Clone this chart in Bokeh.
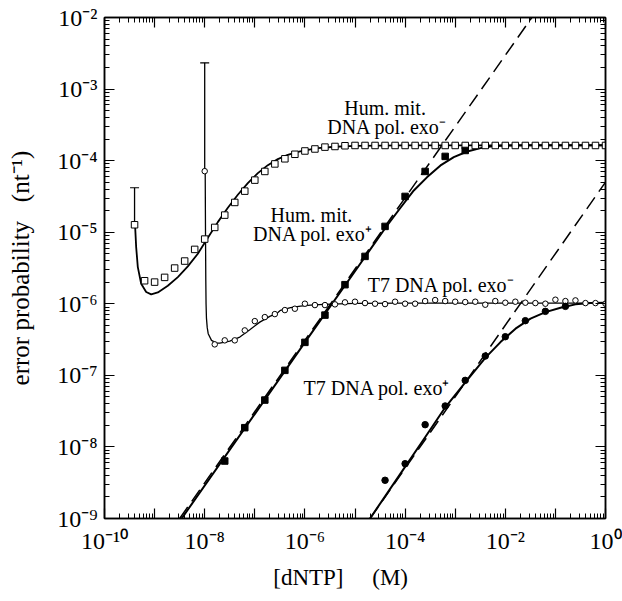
from bokeh.plotting import figure
from bokeh.models import FixedTicker, CustomJSTickFormatter, LogAxis, Label
from bokeh.embed import file_html
from bokeh.resources import INLINE

# ---------------- data (log10 values) ----------------
# Hum. mit. DNA pol. exo- (open squares)
hum_minus_lx = [-9.4, -9.2, -9.0, -8.8, -8.6, -8.4, -8.2, -8.0, -7.8, -7.6, -7.4, -7.2,
                -7.0, -6.8, -6.6, -6.4, -6.2, -6.0, -5.8, -5.6, -5.4, -5.2, -5.0, -4.8,
                -4.6, -4.4, -4.2, -4.0, -3.8, -3.6, -3.4, -3.2, -3.0, -2.8, -2.6, -2.4,
                -2.2, -2.0, -1.8, -1.6, -1.4, -1.2, -1.0, -0.8, -0.6, -0.4, -0.2, 0.0]
hum_minus_ly = [-4.896, -5.678, -5.697, -5.631, -5.501, -5.403, -5.240, -5.096, -4.933, -4.761,
                -4.584, -4.426, -4.272, -4.151, -4.046, -3.974, -3.911, -3.865, -3.837, -3.811,
                -3.802, -3.792, -3.788, -3.788, -3.788, -3.788, -3.788, -3.788, -3.788, -3.788,
                -3.788, -3.788, -3.788, -3.788, -3.788, -3.788, -3.788, -3.788, -3.788, -3.788,
                -3.788, -3.788, -3.788, -3.788, -3.788, -3.788, -3.788, -3.788]
hum_minus_err_lx = [-9.4]
hum_minus_err_top = [-4.379]
hum_minus_fit_lx = [-9.392, -9.388, -9.368, -9.335, -9.268, -9.168, -9.068, -8.935, -8.736, -8.536,
                    -8.337, -8.137, -7.937, -7.738, -7.538, -7.339, -7.139, -6.939, -6.740, -6.540,
                    -6.341, -6.141, -5.941, -5.742, -5.4, -5.0, -4.5, -4.0, -3.0, -2.0, -1.0, 0.0]
hum_minus_fit_ly = [-4.85, -4.929, -5.208, -5.487, -5.720, -5.836, -5.869, -5.841, -5.748, -5.627,
                    -5.478, -5.301, -5.077, -4.859, -4.658, -4.477, -4.314, -4.175, -4.063, -3.979,
                    -3.918, -3.876, -3.849, -3.826, -3.806, -3.795, -3.790, -3.788, -3.788, -3.788,
                    -3.788, -3.788]

# Hum. mit. DNA pol. exo+ (filled squares)
hum_plus_lx = [-7.6, -7.2, -6.8, -6.4, -6.0, -5.6, -5.2, -4.8, -4.4, -4.0, -3.6, -3.2, -2.8]
hum_plus_ly = [-8.197, -7.731, -7.345, -6.930, -6.539, -6.158, -5.733, -5.338, -4.919, -4.500,
               -4.151, -3.941, -3.858]
hum_plus_fit_lx = [-8.46, -6.0, -5.0, -4.6, -4.391, -4.092, -3.826, -3.559, -3.293, -3.028,
                   -2.76, -2.495, -2.229, -1.962, -1.5, -1.0, 0.0]
hum_plus_fit_ly = [-9.0, -6.54, -5.545, -5.145, -4.937, -4.658, -4.416, -4.230, -4.067, -3.951,
                   -3.872, -3.825, -3.797, -3.788, -3.786, -3.786, -3.786]
hum_plus_asym_lx = [-8.5, -1.47]
hum_plus_asym_ly = [-9.0, -2.0]

# T7 DNA pol. exo- (open circles)
t7_minus_lx = [-8.0, -7.8, -7.6, -7.4, -7.2, -7.0, -6.8, -6.6, -6.4, -6.2, -6.0, -5.8, -5.6,
               -5.4, -5.2, -5.0, -4.8, -4.6, -4.4, -4.2, -4.0, -3.8, -3.6, -3.4, -3.2, -3.0,
               -2.8, -2.6, -2.4, -2.2, -2.0, -1.8, -1.6, -1.4, -1.2, -1.0, -0.8, -0.6, -0.4,
               -0.2, 0.0]
t7_minus_ly = [-4.147, -6.567, -6.511, -6.511, -6.372, -6.242, -6.186, -6.144, -6.088, -6.069,
               -5.999, -6.018, -6.018, -6.008, -5.980, -5.971, -5.990, -5.999, -6.004, -5.971,
               -5.999, -5.999, -5.962, -5.948, -5.962, -5.971, -5.976, -5.971, -6.013, -5.962,
               -5.985, -5.971, -5.985, -5.990, -5.999, -5.943, -5.962, -5.953, -5.990, -5.990,
               -5.999]
t7_minus_err_lx = [-8.0]
t7_minus_err_top = [-2.633]
t7_minus_fit_lx = [-7.99, -7.984, -7.978, -7.973, -7.965, -7.95, -7.93, -7.864, -7.764, -7.699,
                   -7.499, -7.299, -7.100, -6.900, -6.701, -6.567, -6.487, -6.287, -6.088, -5.888,
                   -5.623, -5.0, -4.0, -3.0, -2.0, -1.0, 0.0]
t7_minus_fit_ly = [-4.147, -5.0, -5.67, -6.0, -6.2, -6.33, -6.418, -6.511, -6.549, -6.549,
                   -6.521, -6.465, -6.362, -6.256, -6.176, -6.138, -6.092, -6.055, -6.032, -6.018,
                   -6.008, -5.995, -5.99, -5.99, -5.99, -5.99, -5.99]

# T7 DNA pol. exo+ (filled circles)
t7_plus_lx = [-4.4, -4.0, -3.6, -3.2, -2.8, -2.4, -2.0, -1.6, -1.2, -0.8]
t7_plus_ly = [-8.466, -8.234, -7.689, -7.428, -7.070, -6.730, -6.460, -6.236, -6.106, -6.036]
t7_plus_fit_lx = [-4.70, -4.092, -3.6, -3.194, -2.794, -2.395, -2.096, -1.796, -1.497, -1.198,
                  -0.898, -0.599, -0.299, 0.0]
t7_plus_fit_ly = [-9.0, -8.373, -7.865, -7.443, -7.093, -6.753, -6.535, -6.348, -6.208, -6.116,
                  -6.055, -6.008, -5.99, -5.985]
t7_plus_asym_lx = [-4.7, 0.0]
t7_plus_asym_ly = [-9.0, -4.3]

# axis ticks
x_exps = [-10, -9, -8, -7, -6, -5, -4, -3, -2, -1, 0]
x_tick_labels = ["10⁻¹⁰", "", "10⁻⁸", "", "10⁻⁶", "", "10⁻⁴", "", "10⁻²", "", "10⁰"]
y_exps = [-9, -8, -7, -6, -5, -4, -3, -2]
y_tick_labels = ["10⁻⁹", "10⁻⁸", "10⁻⁷", "10⁻⁶", "10⁻⁵", "10⁻⁴", "10⁻³", "10⁻²"]


def pw(a):
    return [10.0 ** v for v in a]


FONT = "Liberation Serif"
NB = "\u00a0"

p = figure(width=622, height=599, x_axis_type="log", y_axis_type="log",
           x_range=(1e-10, 1.0), y_range=(1e-9, 1e-2),
           output_backend="svg", toolbar_location=None,
           min_border_left=104, min_border_right=17, min_border_top=17, min_border_bottom=81,
           x_axis_label="[dNTP]" + NB * 5 + "(M)" + NB * 5,
           y_axis_label="error probability" + NB * 3 + "(nt⁻¹)")
p.grid.visible = False
p.outline_line_color = "black"
p.outline_line_width = 1.5
p.background_fill_color = "white"
p.border_fill_color = "white"


def ticker(exps):
    majors = [10.0 ** e for e in exps]
    minors = [k * 10.0 ** e for e in exps[:-1] for k in range(2, 10)]
    return FixedTicker(ticks=majors, minor_ticks=minors)


def fmt(exps, labels):
    return CustomJSTickFormatter(args=dict(exps=exps, labels=labels), code="""
        const e = Math.round(Math.log10(tick));
        const i = exps.indexOf(e);
        return i >= 0 ? labels[i] : "";
    """)


def style_axis(ax, exps, labels):
    ax.ticker = ticker(exps)
    ax.formatter = fmt(exps, labels)
    ax.axis_line_color = "black"
    ax.axis_line_width = 1.5
    ax.major_tick_line_color = "black"
    ax.minor_tick_line_color = "black"
    ax.major_tick_line_width = 1.2
    ax.minor_tick_line_width = 1.0
    ax.major_tick_in = 10
    ax.major_tick_out = 0
    ax.minor_tick_in = 5
    ax.minor_tick_out = 0
    ax.major_label_text_font = FONT
    ax.major_label_text_font_size = "24px"
    ax.major_label_text_color = "black"
    ax.axis_label_text_font = FONT
    ax.axis_label_text_font_size = "23px"
    ax.axis_label_text_font_style = "normal"
    ax.axis_label_text_color = "black"


style_axis(p.xaxis[0], x_exps, x_tick_labels)
style_axis(p.yaxis[0], y_exps, y_tick_labels)
p.xaxis[0].major_label_standoff = 9
p.xaxis[0].axis_label_standoff = 8
p.yaxis[0].major_label_standoff = 7
p.yaxis[0].axis_label_standoff = 20
p.yaxis[0].axis_label_text_font_size = "25px"

top = LogAxis()
style_axis(top, x_exps, [""] * len(x_exps))
top.major_label_standoff = 0
right = LogAxis()
style_axis(right, y_exps, [""] * len(y_exps))
right.major_label_standoff = 0
p.add_layout(top, "above")
p.add_layout(right, "right")

# dashed asymptotes
p.line(pw(hum_plus_asym_lx), pw(hum_plus_asym_ly), line_color="black", line_width=1.5, line_dash="14 7")
p.line(pw(t7_plus_asym_lx), pw(t7_plus_asym_ly), line_color="black", line_width=1.5, line_dash="14 7")

# fitted curves
p.line(pw(hum_minus_fit_lx), pw(hum_minus_fit_ly), line_color="black", line_width=1.8)
p.line(pw(t7_minus_fit_lx), pw(t7_minus_fit_ly), line_color="black", line_width=1.3)
p.line(pw(hum_plus_fit_lx), pw(hum_plus_fit_ly), line_color="black", line_width=2.0)
p.line(pw(t7_plus_fit_lx), pw(t7_plus_fit_ly), line_color="black", line_width=2.0)

# error bars
p.segment(pw(hum_minus_err_lx), pw([hum_minus_ly[0]]), pw(hum_minus_err_lx), pw(hum_minus_err_top),
          line_color="black", line_width=1.3)
p.scatter(pw(hum_minus_err_lx), pw(hum_minus_err_top), marker="dash", size=9, line_color="black", line_width=1.2)
p.segment(pw(t7_minus_err_lx), pw([t7_minus_ly[0]]), pw(t7_minus_err_lx), pw(t7_minus_err_top),
          line_color="black", line_width=1.3)
p.scatter(pw(t7_minus_err_lx), pw(t7_minus_err_top), marker="dash", size=9, line_color="black", line_width=1.2)

# data points
p.scatter(pw(hum_minus_lx), pw(hum_minus_ly), marker="square", size=6.5,
          fill_color="white", line_color="black", line_width=1)
p.scatter(pw(t7_minus_lx), pw(t7_minus_ly), marker="circle", size=5.5,
          fill_color="white", line_color="black", line_width=1)
p.scatter(pw(hum_plus_lx), pw(hum_plus_ly), marker="square", size=6.5,
          fill_color="black", line_color="black", line_width=1)
p.scatter(pw(t7_plus_lx), pw(t7_plus_ly), marker="circle", size=6.5,
          fill_color="black", line_color="black", line_width=1)


# annotations
def lab(lx, ly, text):
    p.add_layout(Label(x=10.0 ** lx, y=10.0 ** ly, text=text, text_align="center",
                       text_baseline="alphabetic", text_font=FONT, text_font_size="20px",
                       text_color="black"))


lab(-4.40, -3.26, "Hum. mit.")
lab(-4.36, -3.525, "DNA pol. exo⁻")
lab(-5.87, -4.76, "Hum. mit.")
lab(-5.84, -5.03, "DNA pol. exo⁺")
lab(-3.28, -5.74, "T7 DNA pol. exo⁻")
lab(-4.56, -7.17, "T7 DNA pol. exo⁺")

open("out.html", "w").write(file_html(p, INLINE))
